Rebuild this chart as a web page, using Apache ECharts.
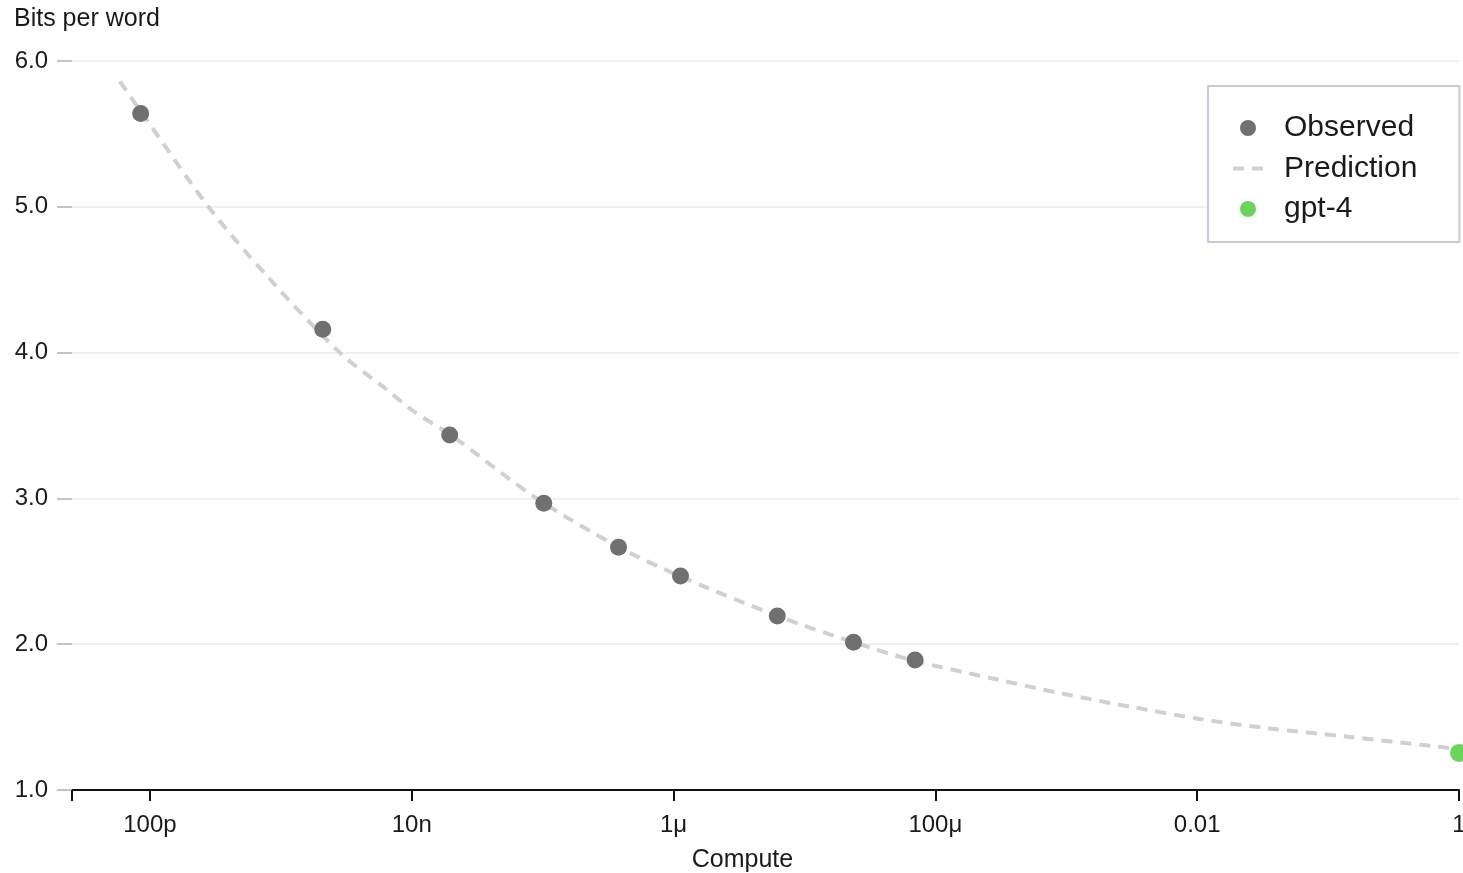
<!DOCTYPE html>
<html>
<head>
<meta charset="utf-8">
<script src="https://cdn.jsdelivr.net/npm/echarts@6/dist/echarts.min.js"></script>
<style>
html,body{margin:0;padding:0;background:#fff;}
#chart{width:1463px;height:873px;}
</style>
</head>
<body>
<div id="chart"></div>
<script>
// ---- data ----
const observedCompute = [8.5e-11, 2.09e-9, 1.95e-8, 1.02e-7, 3.8e-7, 1.13e-6, 6.2e-6, 2.37e-5, 7.0e-5];
const observedBits    = [5.64, 4.16, 3.435, 2.966, 2.665, 2.468, 2.193, 2.013, 1.892];

const predictionCompute = [5.9e-11, 8.7e-11, 2.8e-10, 7.96e-10, 2.82e-9, 6.22e-9, 1.05e-8, 1.95e-8, 9.0e-8, 3.8e-7,
                           1.11e-6, 6.2e-6, 2.63e-5, 7.0e-5, 3.08e-4, 8.85e-4, 3.19e-3, 1.04e-2, 3.37e-2, 0.145, 0.622, 1];
const predictionBits    = [5.86, 5.643, 5.0, 4.519, 4.0, 3.757, 3.593, 3.44, 3.0, 2.667,
                           2.468, 2.194, 2.0, 1.885, 1.755, 1.665, 1.569, 1.487, 1.425, 1.364, 1.302, 1.281];

const gpt4Compute = [1];
const gpt4Bits    = [1.254];

const xTickValues = [1e-10, 1e-8, 1e-6, 1e-4, 1e-2, 1];
const xTickLabels = ['100p', '10n', '1\u03bc', '100\u03bc', '0.01', '1'];
const xMinCompute = 2.54e-11;
const xMaxCompute = 1;

// ---- build ----
const lg = v => Math.log10(v);
const pairs = (xs, ys) => xs.map((x, i) => [lg(x), ys[i]]);
const labelMap = {};
xTickValues.forEach((v, i) => { labelMap[Math.round(lg(v))] = xTickLabels[i]; });

const FONT = "'Liberation Sans', Arial, Helvetica, sans-serif";
const TXT = '#1a1a1a';

const chart = echarts.init(document.getElementById('chart'), null, {renderer: 'canvas'});
chart.setOption({
  animation: false,
  backgroundColor: '#fff',
  textStyle: {fontFamily: FONT},
  title: {
    text: 'Bits per word',
    left: 14, top: 7, padding: 0,
    textStyle: {fontSize: 25, fontWeight: 'normal', color: TXT, fontFamily: FONT}
  },
  grid: {left: 72, right: 4, top: 61, bottom: 83, containLabel: false, outerBoundsMode: 'none'},
  legend: {
    orient: 'vertical',
    left: 1208, top: 86,
    padding: [27, 42, 18, 25],
    itemGap: 10.5,
    itemWidth: 30,
    itemHeight: 16,
    borderColor: '#c9c9d9',
    borderWidth: 2,
    backgroundColor: '#fff',
    textStyle: {fontSize: 30, color: TXT, fontFamily: FONT, lineHeight: 30, padding: [0, 0, 0, 16]},
    data: [
      {name: 'Observed', icon: 'circle'},
      {name: 'Prediction', icon: 'path://M0,0h11v4h-11z M19,0h11v4h-11z'},
      {name: 'gpt-4', icon: 'circle'}
    ]
  },
  xAxis: {
    type: 'value',
    min: lg(xMinCompute),
    max: lg(xMaxCompute),
    name: 'Compute',
    nameLocation: 'middle',
    nameGap: 58,
    nameTextStyle: {fontSize: 25, color: TXT, fontFamily: FONT, padding: [0, 46, 0, 0]},
    axisLine: {show: true, onZero: false, lineStyle: {color: '#111', width: 2}},
    axisTick: {show: true, length: 11, lineStyle: {color: '#111', width: 2},
               customValues: [lg(xMinCompute)].concat(xTickValues.map(lg))},
    axisLabel: {show: true, fontSize: 24, color: TXT, margin: 23, fontFamily: FONT,
                customValues: xTickValues.map(lg),
                formatter: v => labelMap[Math.round(v)] || ''},
    splitLine: {show: false}
  },
  yAxis: {
    type: 'value',
    min: 1, max: 6, interval: 1,
    axisLine: {show: false, onZero: false},
    axisTick: {show: true, length: 15, lineStyle: {color: '#c4c4c4', width: 2}},
    axisLabel: {fontSize: 24, color: TXT, margin: 24, fontFamily: FONT, formatter: v => v.toFixed(1)},
    splitLine: {show: true, lineStyle: {color: '#f0f0f0', width: 2}}
  },
  series: [
    {
      name: 'Prediction',
      type: 'line',
      data: pairs(predictionCompute, predictionBits),
      smooth: 0.3,
      symbol: 'none',
      lineStyle: {color: '#d0d0d0', width: 4, type: [11, 8]},
      itemStyle: {color: '#d0d0d0'},
      z: 2
    },
    {
      name: 'Observed',
      type: 'scatter',
      data: pairs(observedCompute, observedBits),
      symbolSize: 17,
      itemStyle: {color: '#707070', opacity: 1},
      z: 3
    },
    {
      name: 'gpt-4',
      type: 'scatter',
      data: pairs(gpt4Compute, gpt4Bits),
      symbolSize: 18,
      itemStyle: {color: '#6dd35d', opacity: 1},
      clip: false,
      z: 4
    }
  ]
});
</script>
</body>
</html>
